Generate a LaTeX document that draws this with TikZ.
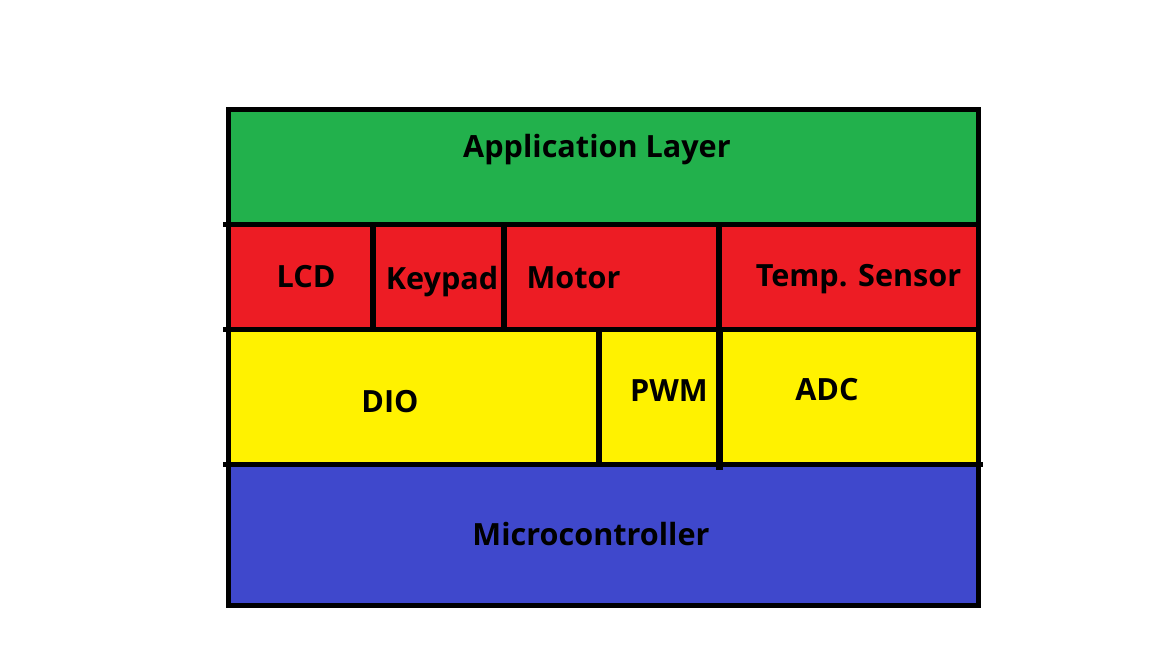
\documentclass[tikz,border=0pt]{standalone}
\usepackage{fontspec}
\setmainfont{Open Sans}
\definecolor{appgreen}{HTML}{22B14C}
\definecolor{appred}{HTML}{ED1C24}
\definecolor{appyellow}{HTML}{FFF200}
\definecolor{appblue}{HTML}{3F48CC}
\begin{document}
\begin{tikzpicture}[x=1pt,y=-1pt,
  lbl/.style={font=\bfseries\fontsize{30.6}{34}\selectfont, inner sep=0pt, anchor=base},
  sep/.style={line width=5pt, black},
  vsep/.style={line width=6pt, black}]
\useasboundingbox (0,0) rectangle (1152,648);
\fill[appgreen]  (228,109) rectangle (978,224);
\fill[appred]    (228,224) rectangle (978,329);
\fill[appyellow] (228,329) rectangle (978,464);
\fill[appblue]   (228,464) rectangle (978,605);
% row separators
\coordinate (h1l) at (223,224); \coordinate (h1r) at (978,224);
\coordinate (h2l) at (223,329); \coordinate (h2r) at (978,329);
\coordinate (h3l) at (223,464.5); \coordinate (h3r) at (983,464.5);
\draw[sep] (h1l) -- (h1r);
\draw[sep] (h2l) -- (h2r);
\draw[sep] (h3l) -- (h3r);
% column separators
\coordinate (v1t) at (372.5,224); \coordinate (v1b) at (372.5,330);
\coordinate (v2t) at (504,224); \coordinate (v2b) at (504,332);
\coordinate (v3t) at (719,224); \coordinate (v3m) at (719,329); \coordinate (v3b) at (719,470);
\coordinate (v4t) at (599,329); \coordinate (v4b) at (599,467);
\draw[vsep] (v1t) -- (v1b);
\draw[vsep] (v2t) -- (v2b);
\draw[vsep] (v3t) -- (v3m);
\draw[line width=7pt] (v3m) -- (v3b);
\draw[vsep] (v4t) -- (v4b);
% outer frame
\draw[line width=5pt] (228,109) rectangle (978,605);
% labels
\node[lbl] (app)   at (597,157.5) {Application Layer};
\node[lbl] (lcd)   at (306,287) {LCD};
\node[lbl] (key)   at (442,289) {Keypad};
\node[lbl] (mot)   at (573.5,288) {Motor};
\node[lbl] (temp)  at (858.5,286) {Temp. Sensor};
\node[lbl] (dio)   at (390,412.5) {DIO};
\node[lbl] (pwm)   at (669,401.5) {PWM};
\node[lbl] (adc)   at (827,400) {ADC};
\node[lbl] (mcu)   at (591,545.5) {Microcontroller};
\end{tikzpicture}
\end{document}
